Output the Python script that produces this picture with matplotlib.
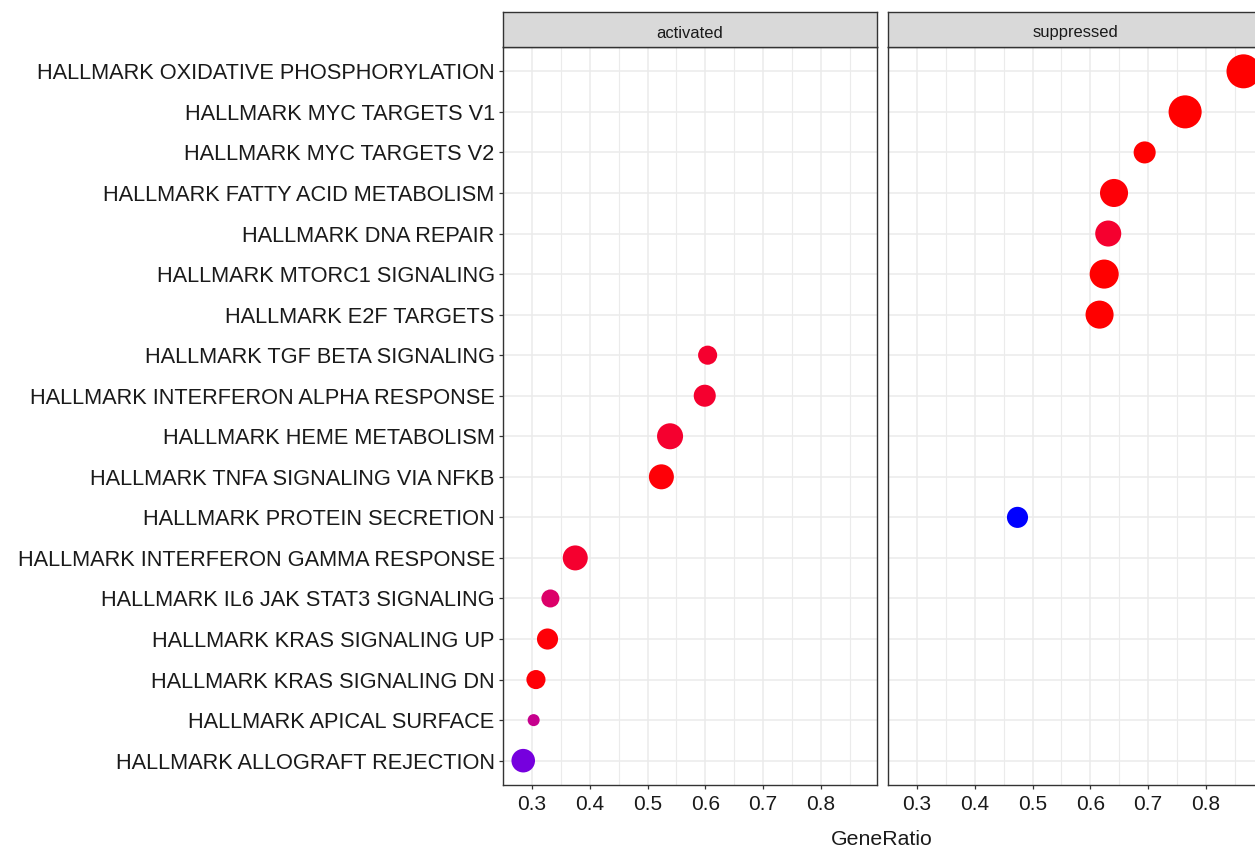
import numpy as np
import matplotlib.pyplot as plt
from matplotlib.colors import LinearSegmentedColormap, Normalize

plt.rcParams['font.family'] = ['Liberation Sans', 'DejaVu Sans']

# pathway order on the y axis, top to bottom
terms = [
    "HALLMARK OXIDATIVE PHOSPHORYLATION",
    "HALLMARK MYC TARGETS V1",
    "HALLMARK MYC TARGETS V2",
    "HALLMARK FATTY ACID METABOLISM",
    "HALLMARK DNA REPAIR",
    "HALLMARK MTORC1 SIGNALING",
    "HALLMARK E2F TARGETS",
    "HALLMARK TGF BETA SIGNALING",
    "HALLMARK INTERFERON ALPHA RESPONSE",
    "HALLMARK HEME METABOLISM",
    "HALLMARK TNFA SIGNALING VIA NFKB",
    "HALLMARK PROTEIN SECRETION",
    "HALLMARK INTERFERON GAMMA RESPONSE",
    "HALLMARK IL6 JAK STAT3 SIGNALING",
    "HALLMARK KRAS SIGNALING UP",
    "HALLMARK KRAS SIGNALING DN",
    "HALLMARK APICAL SURFACE",
    "HALLMARK ALLOGRAFT REJECTION",
]

# activated
act_terms = [
    "HALLMARK TGF BETA SIGNALING",
    "HALLMARK INTERFERON ALPHA RESPONSE",
    "HALLMARK HEME METABOLISM",
    "HALLMARK TNFA SIGNALING VIA NFKB",
    "HALLMARK INTERFERON GAMMA RESPONSE",
    "HALLMARK IL6 JAK STAT3 SIGNALING",
    "HALLMARK KRAS SIGNALING UP",
    "HALLMARK KRAS SIGNALING DN",
    "HALLMARK APICAL SURFACE",
    "HALLMARK ALLOGRAFT REJECTION",
]
act_ratio = [0.604, 0.599, 0.539, 0.524, 0.375, 0.332, 0.327, 0.307, 0.303, 0.285]
act_count = [63, 84, 117, 108, 108, 56, 77, 63, 25, 96]
act_padj = [0.005, 0.005, 0.005, 0.001, 0.005, 0.014, 0.001, 0.001, 0.020, 0.033]

# suppressed
sup_terms = [
    "HALLMARK OXIDATIVE PHOSPHORYLATION",
    "HALLMARK MYC TARGETS V1",
    "HALLMARK MYC TARGETS V2",
    "HALLMARK FATTY ACID METABOLISM",
    "HALLMARK DNA REPAIR",
    "HALLMARK MTORC1 SIGNALING",
    "HALLMARK E2F TARGETS",
    "HALLMARK PROTEIN SECRETION",
]
sup_ratio = [0.865, 0.764, 0.694, 0.641, 0.631, 0.624, 0.616, 0.474]
sup_count = [200, 189, 84, 136, 117, 146, 136, 77]
sup_padj = [0.0005, 0.0005, 0.0005, 0.001, 0.005, 0.0005, 0.0005, 0.038]

ticks = [0.3, 0.4, 0.5, 0.6, 0.7, 0.8]
xlim = (0.256, 0.897)


# red -> blue gradient interpolated in Lab space
WHITE = np.array([0.95047, 1.0, 1.08883])
M = np.array([[0.4124, 0.3576, 0.1805],
              [0.2126, 0.7152, 0.0722],
              [0.0193, 0.1192, 0.9505]])


def to_lab(rgb):
    c = np.array(rgb, dtype=float)
    lin = np.where(c <= 0.04045, c / 12.92, ((c + 0.055) / 1.055) ** 2.4)
    xyz = M @ lin / WHITE
    f = np.where(xyz > 0.008856, np.cbrt(xyz), 7.787 * xyz + 16 / 116)
    return np.array([116 * f[1] - 16, 500 * (f[0] - f[1]), 200 * (f[1] - f[2])])


def from_lab(lab):
    fy = (lab[0] + 16) / 116
    f = np.array([fy + lab[1] / 500, fy, fy - lab[2] / 200])
    xyz = np.where(f ** 3 > 0.008856, f ** 3, (f - 16 / 116) / 7.787) * WHITE
    lin = np.clip(np.linalg.inv(M) @ xyz, 0, 1)
    c = np.where(lin > 0.0031308, 1.055 * lin ** (1 / 2.4) - 0.055, 12.92 * lin)
    return np.clip(c, 0, 1)


lo, hi = to_lab([1, 0, 0]), to_lab([0, 0, 1])
cmap = LinearSegmentedColormap.from_list(
    "redblue", [from_lab(lo + (hi - lo) * t) for t in np.linspace(0, 1, 64)])
all_padj = act_padj + sup_padj
norm = Normalize(min(all_padj), max(all_padj))

fig = plt.figure(figsize=(12.55, 8.49), dpi=100)
W, H = 1255, 849
ypos = {t: i for i, t in enumerate(terms)}

panels = [
    ("activated", 503, act_terms, act_ratio, act_count, act_padj),
    ("suppressed", 888, sup_terms, sup_ratio, sup_count, sup_padj),
]
for k, (name, x0, tt, rr, cc, pp) in enumerate(panels):
    ax = fig.add_axes([x0 / W, 1 - 785 / H, 374 / W, 738 / H])
    ax.set_xlim(*xlim)
    ax.set_ylim(len(terms) - 1 + 0.6, -0.6)
    ax.set_xticks(ticks)
    ax.set_xticks(np.arange(0.25, 0.9, 0.1), minor=True)
    ax.set_yticks(range(len(terms)))
    ax.grid(True, which='major', color='#ebebeb', lw=1.1)
    ax.grid(True, which='minor', axis='x', color='#ebebeb', lw=0.8)
    ax.set_axisbelow(True)
    for s in ax.spines.values():
        s.set_color('#333333')
        s.set_linewidth(1.0)
    ax.tick_params(axis='x', which='major', length=3, width=0.9, color='#333333',
                   labelsize=15, pad=4, labelcolor='#1a1a1a')
    ax.tick_params(which='minor', length=0)
    if k == 0:
        ax.set_yticklabels(terms)
        ax.tick_params(axis='y', length=3, width=0.9, color='#333333',
                       labelsize=15.7, pad=3, labelcolor='#1a1a1a')
    else:
        ax.tick_params(axis='y', length=0, labelleft=False)

    ax.scatter(rr, [ypos[t] for t in tt], s=np.array(cc) * 3.0,
               c=cmap(norm(pp)), linewidths=0, zorder=3)

    # facet strip
    st = fig.add_axes([x0 / W, 1 - 47 / H, 374 / W, 35 / H])
    st.set_facecolor('#d9d9d9')
    st.set_xticks([])
    st.set_yticks([])
    for s in st.spines.values():
        s.set_color('#333333')
        s.set_linewidth(1.0)
    st.text(0.5, 0.4, name, ha='center', va='center', fontsize=11.9,
            color='#1a1a1a', transform=st.transAxes)

fig.text(882 / W, 1 - 845 / H, "GeneRatio", ha='center', va='baseline',
         fontsize=15.3, color='#1a1a1a')

fig.savefig("out.png", dpi=100)
